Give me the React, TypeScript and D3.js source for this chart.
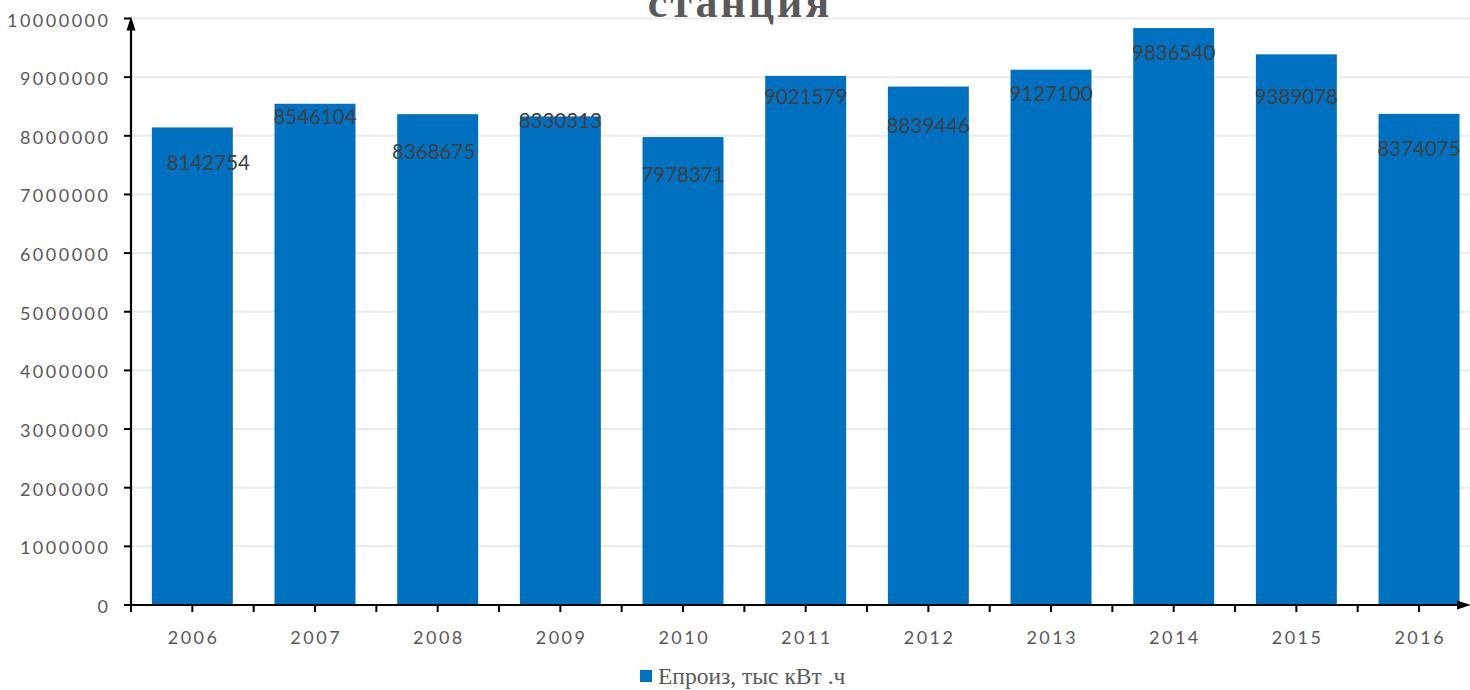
import React from "react";
import * as d3 from "d3";

const years = ["2006", "2007", "2008", "2009", "2010", "2011", "2012", "2013", "2014", "2015", "2016"];
const values = [8142754, 8546104, 8368675, 8330313, 7978371, 9021579, 8839446, 9127100, 9836540, 9389078, 8374075];
const yTicks = [0, 1000000, 2000000, 3000000, 4000000, 5000000, 6000000, 7000000, 8000000, 9000000, 10000000];
const seriesName = "Епроиз, тыс кВт .ч";
const titleText = "станция";

// label placement (pixels below bar top, horizontal shift) – layout only
const labelDy = [35, 12, 37, 4, 37, 20, 38, 23, 24, 42, 34];
const labelDx = [16, 0, -4, 0, 0, 0, 0, 0, 0, 0, 0];

const W = 1470;
const H = 690;
const x0 = 131;
const bandW = 122.67;
const y0 = 605;
const yTop = 18.5;
const LS = 2.5;

export default function App() {
  const x = d3
    .scaleBand<string>()
    .domain(years)
    .range([x0, x0 + bandW * years.length])
    .paddingInner(0.34)
    .paddingOuter(0.17);
  const y = d3.scaleLinear().domain([0, 10000000]).range([y0, yTop]);
  const numFont = "Lato, 'Open Sans', sans-serif";

  const xTickPos: number[] = [];
  for (let i = 0; i <= years.length * 2; i++) xTickPos.push(x0 + (bandW / 2) * i);

  return (
    <svg
      width={W}
      height={H}
      style={{ position: "absolute", left: 0, top: 0, background: "#fff" }}
    >
      <rect x={0} y={0} width={W} height={H} fill="#fff" />
      {/* gridlines */}
      {yTicks.map((t) => (
        <line key={"g" + t} x1={x0} x2={W} y1={y(t)} y2={y(t)} stroke="#ebebeb" strokeWidth={2} />
      ))}
      {/* title */}
      <text
        x={740}
        y={17}
        textAnchor="middle"
        fontFamily="'Liberation Serif', 'Times New Roman', serif"
        fontWeight="bold"
        fontSize={44}
        letterSpacing={3}
        fill="#595959"
      >
        {titleText}
      </text>
      {/* bars */}
      {values.map((v, i) => (
        <rect
          key={"b" + i}
          x={x(years[i])!}
          y={y(v)}
          width={x.bandwidth()}
          height={y0 - y(v)}
          fill="#0070C0"
        />
      ))}
      {/* labels */}
      {values.map((v, i) => (
        <text
          key={"l" + i}
          x={x(years[i])! + x.bandwidth() / 2 + labelDx[i]}
          y={y(v) + labelDy[i]}
          dominantBaseline="central"
          textAnchor="middle"
          fontFamily={numFont}
          fontSize={20.5}
          fill="#404040"
        >
          {v}
        </text>
      ))}
      {/* y tick labels */}
      {yTicks.map((t) => (
        <text
          key={"yt" + t}
          x={108 + LS}
          y={y(t) + 1}
          dominantBaseline="central"
          textAnchor="end"
          fontFamily={numFont}
          fontSize={18}
          letterSpacing={LS}
          fill="#595959"
        >
          {t}
        </text>
      ))}
      {/* y ticks */}
      {yTicks.map((t) => (
        <line key={"ytk" + t} x1={124} x2={x0} y1={y(t)} y2={y(t)} stroke="#000" strokeWidth={2} />
      ))}
      {/* x ticks */}
      {xTickPos.map((p, i) => (
        <line key={"xtk" + i} x1={p} x2={p} y1={y0} y2={y0 + 7} stroke="#000" strokeWidth={2} />
      ))}
      {/* x tick labels */}
      {years.map((yr) => (
        <text
          key={"xl" + yr}
          x={x(yr)! + x.bandwidth() / 2 + LS / 2}
          y={637}
          dominantBaseline="central"
          textAnchor="middle"
          fontFamily={numFont}
          fontSize={18}
          letterSpacing={LS}
          fill="#595959"
        >
          {yr}
        </text>
      ))}
      {/* axes */}
      <line x1={x0} x2={x0} y1={y0 + 1} y2={yTop + 10} stroke="#000" strokeWidth={2.2} />
      <path d={`M${x0},${yTop - 2} L${x0 - 4.5},${yTop + 12} L${x0 + 4.5},${yTop + 12} Z`} fill="#000" />
      <line x1={x0 - 1} x2={W - 10} y1={y0} y2={y0} stroke="#000" strokeWidth={2.2} />
      <path d={`M${W + 1},${y0} L${W - 13},${y0 - 4.5} L${W - 13},${y0 + 4.5} Z`} fill="#000" />
      {/* legend */}
      <rect x={640} y={670} width={12} height={12} fill="#0070C0" />
      <text
        x={658}
        y={684}
        fontFamily="'Liberation Serif', 'Times New Roman', serif"
        fontSize={23.5}
        fill="#595959"
      >
        {seriesName}
      </text>
    </svg>
  );
}
